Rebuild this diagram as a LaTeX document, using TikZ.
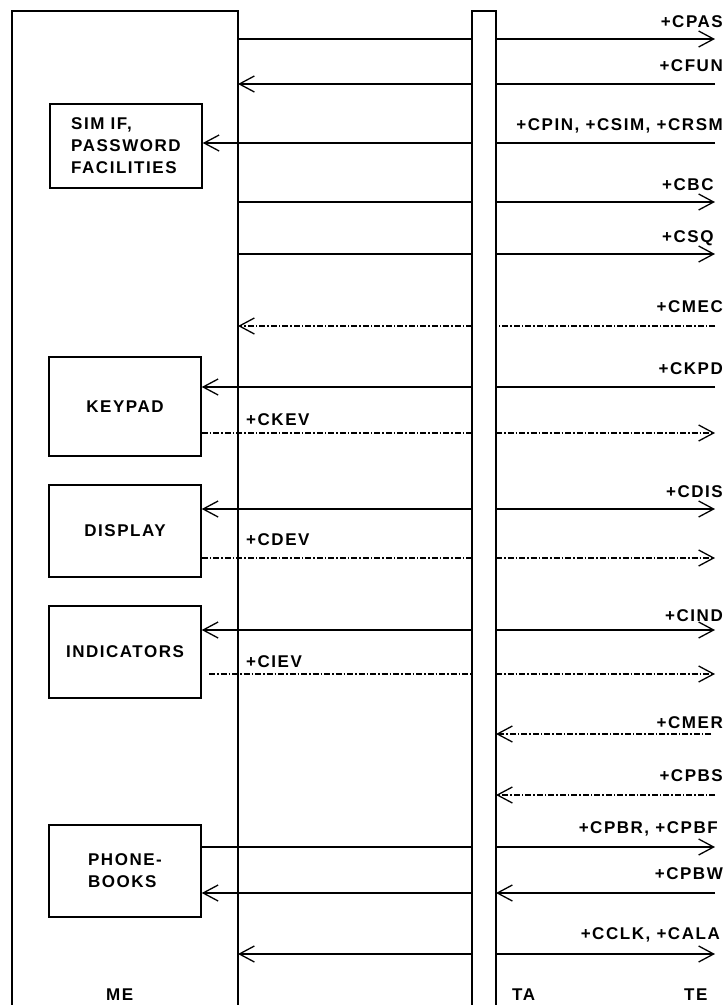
\documentclass[tikz,border=0pt]{standalone}
\usepackage{fontspec}
\newfontfamily\lblfont[LetterSpace=9]{Liberation Sans}
\usetikzlibrary{arrows.meta}
\begin{document}
\begin{tikzpicture}[x=1pt,y=-1pt,
  lane/.style={line width=1.4pt},
  msg/.style={line width=1.3pt},
  ev/.style={line width=1.1pt, dash pattern=on 6pt off 2pt on 1.5pt off 2pt},
  rtip/.style={-{Straight Barb[length=15pt,width=16pt,line width=1.3pt]}},
  ltip/.style={{Straight Barb[length=15pt,width=16pt,line width=1.3pt]}-},
  lbl/.style={font=\lblfont\bfseries\fontsize{17}{22}\selectfont, inner sep=0pt},
  box/.style={draw, line width=1.5pt, minimum width=152pt, align=center,
    inner sep=0pt, font=\lblfont\bfseries\fontsize{17}{22}\selectfont},
]
\useasboundingbox (0,0) rectangle (728,1005);
% lifelines
\coordinate (meR) at (238,0);
\coordinate (taL) at (472,0);
\coordinate (taR) at (496,0);
\coordinate (teX) at (715,0);
\coordinate (meTL) at (12,11);
\coordinate (meTR) at (238,11);
\coordinate (meBL) at (12,1005);
\coordinate (meBR) at (238,1005);
\coordinate (taTL) at (472,11);
\coordinate (taTR) at (496,11);
\coordinate (taBL) at (472,1005);
\coordinate (taBR) at (496,1005);
\draw[lane] (meBL) -- (meTL) -- (meTR) -- (meBR);
\draw[lane] (taBL) -- (taTL) -- (taTR) -- (taBR);
% boxes
\node[box, minimum height=84pt, align=left] (sim) at (126,146) {SIM IF,\\PASSWORD\\FACILITIES};
\node[box, minimum height=99pt] (keypad) at (125,406.5) {KEYPAD};
\node[box, minimum height=92pt] (display) at (125,531) {DISPLAY};
\node[box, minimum height=92pt] (ind) at (125,652) {INDICATORS};
\node[box, minimum height=92pt, align=left] (phone) at (125,871) {PHONE-\\BOOKS};
% row coordinates
\coordinate (r1) at (0,39);
\coordinate (r2) at (0,84);
\coordinate (r3) at (0,143);
\coordinate (r4) at (0,202);
\coordinate (r5) at (0,254);
\coordinate (r6) at (0,326);
\coordinate (r7) at (0,387);
\coordinate (r8) at (0,433);
\coordinate (r9) at (0,509);
\coordinate (r10) at (0,558);
\coordinate (r11) at (0,630);
\coordinate (r12) at (0,674);
\coordinate (r13) at (0,734);
\coordinate (r14) at (0,795);
\coordinate (r15) at (0,847);
\coordinate (r16) at (0,893);
\coordinate (r17) at (0,954);
\coordinate (cievS) at (209,674);
\coordinate (cmerS) at (711,734);
% messages
\draw[msg] (meR|-r1) -- (taL|-r1);
\draw[msg,rtip] (taR|-r1) -- (teX|-r1);
\draw[msg] (teX|-r2) -- (taR|-r2);
\draw[msg,rtip] (taL|-r2) -- (meR|-r2);
\draw[msg] (teX|-r3) -- (taR|-r3);
\draw[msg,rtip] (taL|-r3) -- (sim.east|-r3);
\draw[msg] (meR|-r4) -- (taL|-r4);
\draw[msg,rtip] (taR|-r4) -- (teX|-r4);
\draw[msg] (meR|-r5) -- (taL|-r5);
\draw[msg,rtip] (taR|-r5) -- (teX|-r5);
\draw[ev] (teX|-r6) -- (taR|-r6);
\draw[ev,rtip] (taL|-r6) -- (meR|-r6);
\draw[msg] (teX|-r7) -- (taR|-r7);
\draw[msg,rtip] (taL|-r7) -- (keypad.east|-r7);
\draw[ev] (keypad.east|-r8) -- (taL|-r8);
\draw[ev,rtip] (taR|-r8) -- (teX|-r8);
\draw[msg,ltip] (display.east|-r9) -- (taL|-r9);
\draw[msg,rtip] (taR|-r9) -- (teX|-r9);
\draw[ev] (display.east|-r10) -- (taL|-r10);
\draw[ev,rtip] (taR|-r10) -- (teX|-r10);
\draw[msg,ltip] (ind.east|-r11) -- (taL|-r11);
\draw[msg,rtip] (taR|-r11) -- (teX|-r11);
\draw[ev] (cievS) -- (taL|-r12);
\draw[ev,rtip] (taR|-r12) -- (teX|-r12);
\draw[ev,rtip] (cmerS) -- (taR|-r13);
\draw[ev,rtip] (teX|-r14) -- (taR|-r14);
\draw[msg] (phone.east|-r15) -- (taL|-r15);
\draw[msg,rtip] (taR|-r15) -- (teX|-r15);
\draw[msg,rtip] (teX|-r16) -- (taR|-r16);
\draw[msg,rtip] (taL|-r16) -- (phone.east|-r16);
\draw[msg,rtip] (taL|-r17) -- (meR|-r17);
\draw[msg,rtip] (taR|-r17) -- (teX|-r17);
% labels
\node[lbl, anchor=base east] (lCPAS) at (723,27) {+CPAS};
\node[lbl, anchor=base east] (lCFUN) at (723,71) {+CFUN};
\node[lbl, anchor=base east] (lCPIN) at (723,130) {+CPIN, +CSIM, +CRSM};
\node[lbl, anchor=base west] (lCBC) at (662,190) {+CBC};
\node[lbl, anchor=base west] (lCSQ) at (662,242) {+CSQ};
\node[lbl, anchor=base east] (lCMEC) at (723,312) {+CMEC};
\node[lbl, anchor=base east] (lCKPD) at (723,374) {+CKPD};
\node[lbl, anchor=base west] (lCKEV) at (246,425) {+CKEV};
\node[lbl, anchor=base east] (lCDIS) at (723,497) {+CDIS};
\node[lbl, anchor=base west] (lCDEV) at (246,545) {+CDEV};
\node[lbl, anchor=base east] (lCIND) at (723,621) {+CIND};
\node[lbl, anchor=base west] (lCIEV) at (246,667) {+CIEV};
\node[lbl, anchor=base east] (lCMER) at (723,728) {+CMER};
\node[lbl, anchor=base east] (lCPBS) at (723,781) {+CPBS};
\node[lbl, anchor=base east] (lCPBR) at (718,833) {+CPBR, +CPBF};
\node[lbl, anchor=base east] (lCPBW) at (723,879) {+CPBW};
\node[lbl, anchor=base east] (lCCLK) at (720,939) {+CCLK, +CALA};
\node[lbl, anchor=base west] (lME) at (106,1000) {ME};
\node[lbl, anchor=base west] (lTA) at (512,1000) {TA};
\node[lbl, anchor=base west] (lTE) at (684,1000) {TE};
\end{tikzpicture}
\end{document}
